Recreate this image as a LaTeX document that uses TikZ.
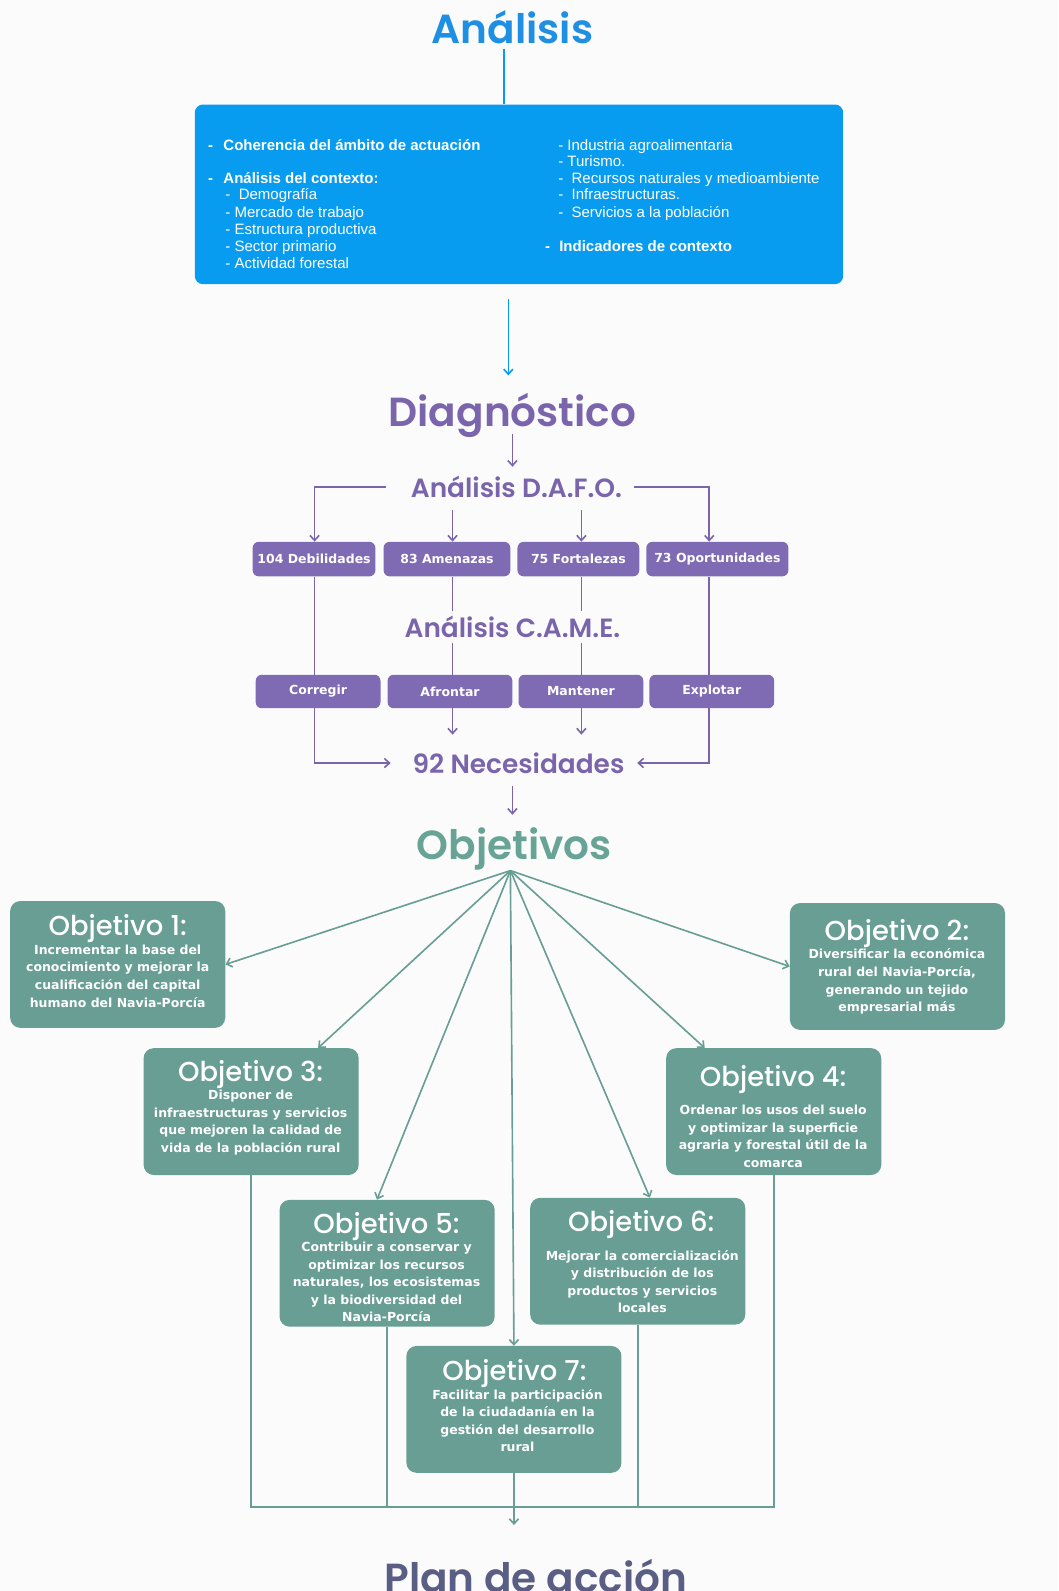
\documentclass[tikz,border=0pt]{standalone}
\usepackage{fontspec}
\setmainfont{Liberation Sans}
\IfFontExistsTF{Poppins SemiBold}{\newfontfamily\tf{Poppins SemiBold}}{\newfontfamily\tf{Poppins}[UprightFont=*-Bold]}
\IfFontExistsTF{Poppins Medium}{\newfontfamily\tfo{Poppins Medium}}{\newfontfamily\tfo{Poppins}}
\newfontfamily\dvb{DejaVu Sans}
\usetikzlibrary{arrows.meta}
\definecolor{bg}{RGB}{251,251,251}
\definecolor{btitle}{RGB}{30,143,227}
\definecolor{bbox}{RGB}{8,156,240}
\definecolor{pur}{RGB}{122,101,173}
\definecolor{pbox}{RGB}{126,107,180}
\definecolor{tealt}{RGB}{104,164,150}
\definecolor{tbox}{RGB}{104,158,148}
\definecolor{plan}{RGB}{90,94,133}
\tikzset{
  ttl/.style={font=\tf\fontsize{40}{40}\selectfont, inner sep=0, anchor=base},
  subt/.style={font=\tf\fontsize{26}{26}\selectfont, text=pur, inner sep=0, anchor=base},
  btxt/.style={anchor=base west, inner sep=0, text=white, font=\fontsize{14.8}{16}\selectfont},
  bbtxt/.style={btxt, font=\bfseries\fontsize{14.8}{16}\selectfont},
  pb/.style={fill=pbox, rounded corners=6pt, text=white, font=\dvb\bfseries\fontsize{12.3}{15}\selectfont, inner sep=0},
  ob/.style={fill=tbox, rounded corners=10pt, inner sep=0, minimum width=212pt, minimum height=125pt},
  ot/.style={font=\tfo\fontsize{27}{27}\selectfont, text=white, inner sep=0, anchor=base},
  obd/.style={font=\dvb\bfseries\fontsize{12.3}{17.3}\selectfont, text=white, align=center, inner sep=0, anchor=north},
  barr/.style={draw=bbox, line width=1.6pt, -{Straight Barb[length=5pt,width=9pt]}},
  bln/.style={draw=bbox, line width=1.6pt},
  parr/.style={draw=pur, line width=1.6pt, -{Straight Barb[length=5pt,width=9pt]}},
  pln/.style={draw=pur, line width=1.6pt},
  tarr/.style={draw=tbox, line width=1.6pt, -{Straight Barb[length=5pt,width=9pt]}},
  tln/.style={draw=tbox, line width=1.6pt},
}
\begin{document}
\begin{tikzpicture}[x=1pt,y=-1pt]
\useasboundingbox[fill=bg] (0,0) rectangle (1043,1568);

% ---------- Analisis ----------
\node[ttl, text=btitle] (ana) at (505,43) {Análisis};
\node[fill=bbox, rounded corners=8pt, minimum width=639pt, minimum height=177pt, inner sep=0] (abox) at (511.5,191.5) {};
\coordinate (bx) at (497,48);
\draw[bln] (bx) -- (bx |- abox.north);

\node[bbtxt] (l1d) at (205,148) {-};
\node[bbtxt] (l1) at (220,148) {Coherencia del ámbito de actuación};
\node[bbtxt] (l2d) at (205,181) {-};
\node[bbtxt] (l2) at (220,181) {Análisis del contexto:};
\node[btxt] (l3) at (222,197) {-\ \ Demografía};
\node[btxt] (l4) at (222,214) {- Mercado de trabajo};
\node[btxt] (l5) at (222,231) {- Estructura productiva};
\node[btxt] (l6) at (222,248) {- Sector primario};
\node[btxt] (l7) at (222,265) {- Actividad forestal};
\node[btxt] (r1) at (550,148) {- Industria agroalimentaria};
\node[btxt] (r2) at (550,164) {- Turismo.};
\node[btxt] (r3) at (550,181) {-\ \ Recursos naturales y medioambiente};
\node[btxt] (r4) at (550,197) {-\ \ Infraestructuras.};
\node[btxt] (r5) at (550,214) {-\ \ Servicios a la población};
\node[bbtxt] (r6d) at (537,248) {-};
\node[bbtxt] (r6) at (551,248) {Indicadores de contexto};

\coordinate (ba1) at (501,295);
\coordinate (ba2) at (501,370);
\draw[barr] (ba1) -- (ba2);

% ---------- Diagnostico ----------
\node[ttl, text=pur] (diag) at (505,420) {Diagnóstico};
\coordinate (da1) at (505,428);
\coordinate (da2) at (505,460);
\draw[parr] (da1) -- (da2);
\node[subt] (dafo) at (509,490) {Análisis D.A.F.O.};

\coordinate (X1) at (310,0);
\coordinate (X2) at (446,0);
\coordinate (X3) at (573,0);
\coordinate (X4) at (699,0);

\node[pb, minimum width=121pt, minimum height=34pt] (b1) at (309.5,551) {104 Debilidades};
\node[pb, minimum width=125pt, minimum height=34pt] (b2) at (440.5,551) {83 Amenazas};
\node[pb, minimum width=120pt, minimum height=34pt] (b3) at (570,551) {75 Fortalezas};
\node[pb, minimum width=140pt, minimum height=34pt] (b4) at (707,551) {73 Oportunidades};

\coordinate (dl) at (380,480);
\coordinate (dr) at (625,480);
\coordinate (m2) at (446,503);
\coordinate (m3) at (573,503);
\draw[parr] (dl) -| (b1.north -| X1);
\draw[parr] (dr) -| (b4.north -| X4);
\draw[parr] (m2) -- (b2.north -| X2);
\draw[parr] (m3) -- (b3.north -| X3);

\node[subt, inner ysep=5pt] (came) at (505,628) {Análisis C.A.M.E.};

\node[pb, minimum width=123pt, minimum height=33pt] (c1) at (313.5,681.5) {Corregir};
\node[pb, minimum width=123pt, minimum height=33pt] (c2) at (443.5,681.5) {Afrontar};
\node[pb, minimum width=123pt, minimum height=33pt] (c3) at (572.5,681.5) {Mantener};
\node[pb, minimum width=123pt, minimum height=33pt] (c4) at (701.5,681.5) {Explotar};

\draw[pln] (b1.south -| X1) -- (c1.north -| X1);
\draw[pln] (b4.south -| X4) -- (c4.north -| X4);
\draw[pln] (b2.south -| X2) -- (X2 |- came.north);
\draw[pln] (X2 |- came.south) -- (c2.north -| X2);
\draw[pln] (b3.south -| X3) -- (X3 |- came.north);
\draw[pln] (X3 |- came.south) -- (c3.north -| X3);

\node[subt] (nec) at (511,762) {92 Necesidades};
\coordinate (nl) at (385,752);
\coordinate (nr) at (628,752);
\coordinate (n2) at (446,724);
\coordinate (n3) at (573,724);
\draw[parr] (c1.south -| X1) |- (nl);
\draw[parr] (c4.south -| X4) |- (nr);
\draw[parr] (c2.south -| X2) -- (n2);
\draw[parr] (c3.south -| X3) -- (n3);
\coordinate (na1) at (505,775);
\coordinate (na2) at (505,803);
\draw[parr] (na1) -- (na2);

% ---------- Objetivos ----------
\node[ttl, text=tealt] (obj) at (507,847) {Objetivos};
\coordinate (hub) at (503,858);

\node[ob] (o1) at (116,950.5) {};
\node[ob] (o2) at (884.5,952.5) {};
\node[ob] (o3) at (247.5,1095.5) {};
\node[ob] (o4) at (762.5,1095.5) {};
\node[ob] (o5) at (381.5,1245) {};
\node[ob] (o6) at (628.5,1243) {};
\node[ob] (o7) at (506.5,1389) {};

\node[ot] (t1) at (116,922) {Objetivo 1:};
\node[obd] (d1) at (116,931) {Incrementar la base del\\conocimiento y mejorar la\\cualificación del capital\\humano del Navia-Porcía};
\node[ot] (t2) at (884,927) {Objetivo 2:};
\node[obd] (d2) at (884,935) {Diversificar la económica\\rural del Navia-Porcía,\\generando un tejido\\empresarial más};
\node[ot] (t3) at (247,1066) {Objetivo 3:};
\node[obd] (d3) at (247,1074) {Disponer de\\infraestructuras y servicios\\que mejoren la calidad de\\vida de la población rural};
\node[ot] (t4) at (762,1071) {Objetivo 4:};
\node[obd] (d4) at (762,1089) {Ordenar los usos del suelo\\y optimizar la superficie\\agraria y forestal útil de la\\comarca};
\node[ot] (t5) at (381,1216) {Objetivo 5:};
\node[obd] (d5) at (381,1224) {Contribuir a conservar y\\optimizar los recursos\\naturales, los ecosistemas\\y la biodiversidad del\\Navia-Porcía};
\node[ot] (t6) at (632,1214) {Objetivo 6:};
\node[obd] (d6) at (633,1232) {Mejorar la comercialización\\y distribución de los\\productos y servicios\\locales};
\node[ot] (t7) at (507,1361) {Objetivo 7:};
\node[obd] (d7) at (510,1369) {Facilitar la participación\\de la ciudadanía en la\\gestión del desarrollo\\rural};

\draw[tarr] (hub) -- (o1.east);
\draw[tarr] (hub) -- (o2.west);
\draw[tarr] (hub) -- ([xshift=66pt]o3.north);
\draw[tarr] (hub) -- ([xshift=-68pt]o4.north);
\draw[tarr] (hub) -- ([xshift=-10pt]o5.north);
\draw[tarr] (hub) -- ([xshift=12pt]o6.north);
\draw[tarr] (hub) -- (o7.north);

\coordinate (jn) at (506.5,1485);
\coordinate (pend) at (506.5,1503);
\draw[tln] (o3.south) -- (o3.south |- jn) -- (o4.south |- jn) -- (o4.south);
\draw[tln] (o5.south) -- (o5.south |- jn);
\draw[tln] (o6.south) -- (o6.south |- jn);
\draw[tln] (o7.south) -- (jn);
\draw[tarr] (jn) -- (pend);

\node[ttl, text=plan] (plan) at (528,1569) {Plan de acción};
\end{tikzpicture}
\end{document}
